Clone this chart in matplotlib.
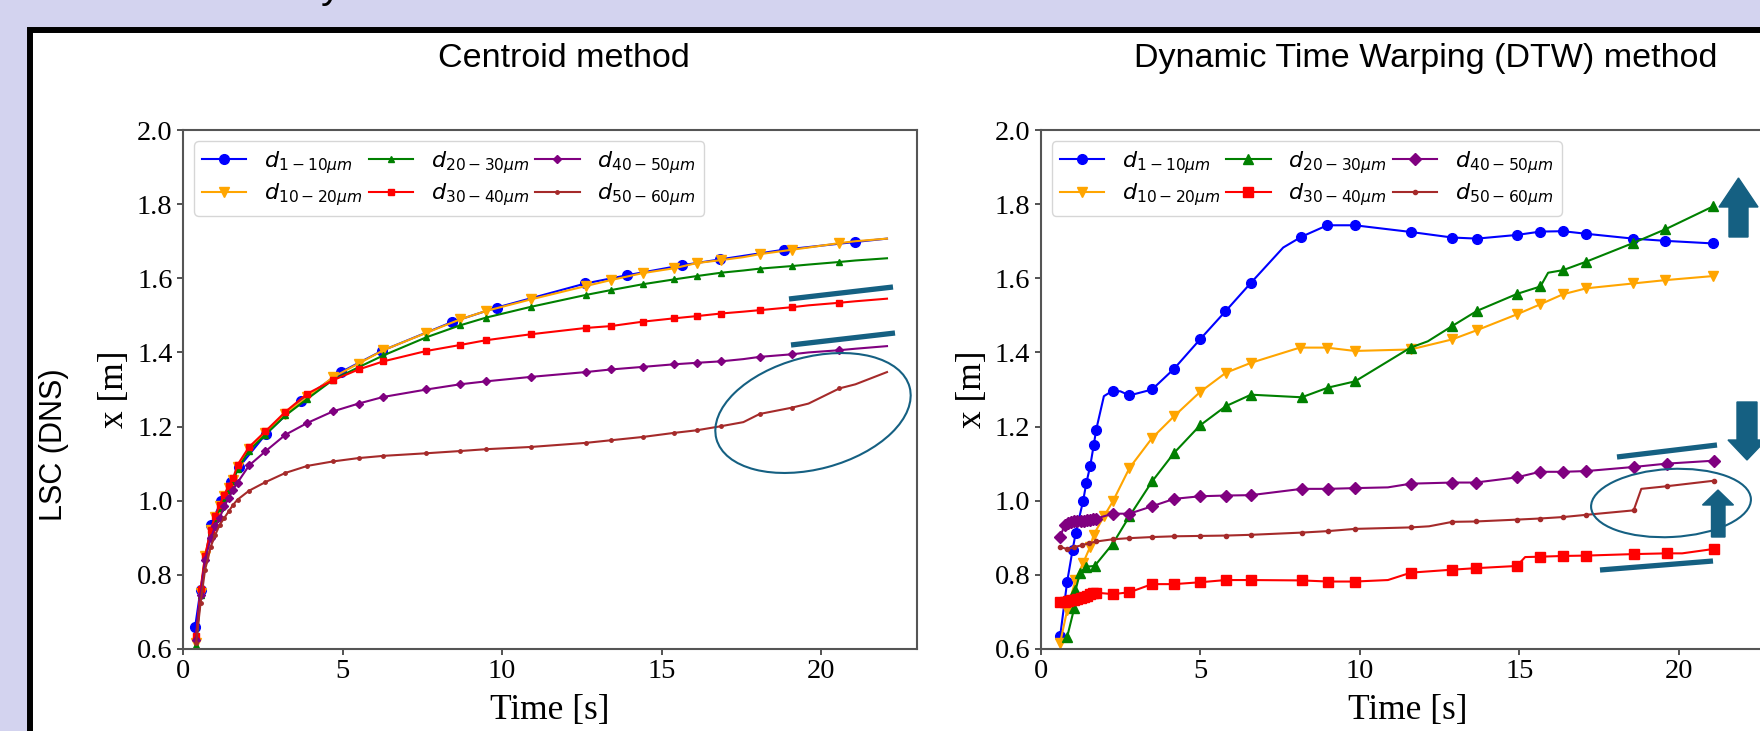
import matplotlib
matplotlib.use('Agg')
import matplotlib.pyplot as plt
from matplotlib.patches import Ellipse, Rectangle, Polygon
from matplotlib.lines import Line2D
from matplotlib.transforms import IdentityTransform

# ---- Centroid method (left panel) ----
t_c = [0.41, 0.55, 0.69, 0.87, 1.01, 1.15, 1.29, 1.43, 1.57, 1.71, 2.07, 2.58,
       3.21, 3.90, 4.70, 5.50, 6.28, 7.63, 8.68, 9.50, 10.90, 12.62, 13.40,
       14.41, 15.39, 16.10, 16.86, 17.56, 18.07, 19.08, 19.60, 20.57, 21.07, 22.06]
t_c_blue = [0.38, 0.55, 0.87, 1.20, 1.50, 1.75, 2.60, 3.70, 4.95, 6.25, 8.43,
            9.83, 12.61, 13.90, 15.63, 16.83, 18.82, 21.07, 22.06]
c_blue = [0.66, 0.76, 0.935, 1.00, 1.05, 1.09, 1.18, 1.27, 1.347, 1.405, 1.482,
          1.521, 1.586, 1.608, 1.635, 1.651, 1.677, 1.698, 1.707]
c_orange = [0.615, 0.75, 0.85, 0.92, 0.955, 0.985, 1.012, 1.035, 1.057, 1.09, 1.14,
            1.183, 1.235, 1.28, 1.333, 1.37, 1.406, 1.453, 1.489, 1.512, 1.543,
            1.579, 1.595, 1.614, 1.627, 1.641, 1.649, 1.657, 1.665, 1.677, 1.683,
            1.695, 1.70, 1.707]
c_green = [0.61, 0.745, 0.845, 0.915, 0.95, 0.98, 1.007, 1.03, 1.052, 1.085, 1.135,
           1.178, 1.23, 1.275, 1.326, 1.36, 1.392, 1.441, 1.473, 1.494, 1.523,
           1.555, 1.568, 1.584, 1.597, 1.606, 1.615, 1.621, 1.626, 1.633, 1.637,
           1.644, 1.648, 1.654]
c_red = [0.635, 0.761, 0.851, 0.922, 0.958, 0.989, 1.016, 1.039, 1.061, 1.097, 1.145,
         1.187, 1.24, 1.289, 1.325, 1.354, 1.376, 1.404, 1.42, 1.433, 1.449, 1.466,
         1.471, 1.483, 1.492, 1.498, 1.505, 1.51, 1.514, 1.522, 1.527, 1.534,
         1.538, 1.545]
c_purple = [0.624, 0.746, 0.84, 0.899, 0.931, 0.953, 0.985, 1.007, 1.03, 1.049, 1.095,
            1.133, 1.178, 1.21, 1.241, 1.262, 1.28, 1.30, 1.314, 1.322, 1.334,
            1.347, 1.354, 1.361, 1.368, 1.372, 1.376, 1.382, 1.388, 1.395, 1.40,
            1.406, 1.41, 1.417]
c_brown = [0.615, 0.724, 0.813, 0.876, 0.908, 0.935, 0.953, 0.971, 0.989, 1.003,
           1.027, 1.05, 1.075, 1.094, 1.106, 1.115, 1.121, 1.128, 1.134, 1.139,
           1.145, 1.156, 1.163, 1.172, 1.183, 1.19, 1.201, 1.212, 1.234, 1.251,
           1.262, 1.303, 1.314, 1.347]
c_plain = [17.56, 19.60, 21.07, 22.06]      # vertices drawn without marker
c_blue_plain = [22.06]

# ---- DTW method (right panel) ----
d_blue_t = [0.61, 0.83, 1.0, 1.1, 1.33, 1.43, 1.55, 1.66, 1.74, 1.98, 2.26, 2.5,
            2.78, 3.49, 4.18, 4.99, 5.79, 6.59, 7.6, 8.17, 8.98, 9.84, 11.59, 12.89,
            13.67, 14.93, 15.66, 16.37, 17.1, 18.56, 19.57, 21.07]
d_blue = [0.635, 0.782, 0.868, 0.914, 1.0, 1.048, 1.093, 1.149, 1.192, 1.282, 1.297,
          1.295, 1.284, 1.30, 1.356, 1.435, 1.511, 1.588, 1.683, 1.712, 1.743, 1.743,
          1.725, 1.71, 1.707, 1.717, 1.726, 1.727, 1.72, 1.707, 1.701, 1.694]
d_orange_t = [0.61, 0.83, 1.09, 1.33, 1.55, 1.66, 1.98, 2.26, 2.78, 3.49, 4.18, 4.99,
              5.8, 6.59, 8.12, 8.96, 9.84, 11.59, 12.89, 13.67, 14.93, 15.66, 16.37,
              17.1, 18.56, 19.57, 21.07]
d_orange = [0.617, 0.705, 0.786, 0.832, 0.876, 0.908, 0.958, 0.998, 1.088, 1.169,
            1.228, 1.293, 1.345, 1.372, 1.413, 1.413, 1.404, 1.408, 1.435, 1.46,
            1.503, 1.53, 1.557, 1.573, 1.586, 1.595, 1.606]
d_green_t = [0.83, 1.05, 1.09, 1.23, 1.43, 1.69, 2.26, 2.78, 3.49, 4.18, 4.99, 5.8,
             6.59, 8.18, 9.0, 9.85, 11.59, 12.13, 12.89, 13.67, 14.93, 15.66, 15.9,
             16.37, 17.1, 18.56, 19.57, 21.07]
d_green = [0.633, 0.71, 0.758, 0.805, 0.822, 0.824, 0.884, 0.958, 1.052, 1.129, 1.203,
           1.255, 1.286, 1.279, 1.305, 1.322, 1.413, 1.43, 1.471, 1.512, 1.558, 1.578,
           1.615, 1.622, 1.645, 1.695, 1.732, 1.794]
d_red_t = [0.61, 0.75, 0.85, 0.95, 1.05, 1.15, 1.25, 1.35, 1.45, 1.55, 1.65, 1.74,
           2.26, 2.78, 3.49, 4.18, 4.99, 5.8, 6.59, 8.18, 9.0, 9.85, 10.88, 11.6,
           12.9, 13.63, 14.92, 15.18, 15.64, 16.38, 17.1, 18.58, 19.61, 20.1, 21.1]
d_red = [0.728, 0.728, 0.729, 0.731, 0.733, 0.735, 0.737, 0.74, 0.744, 0.748, 0.75,
         0.752, 0.748, 0.753, 0.775, 0.775, 0.78, 0.786, 0.786, 0.785, 0.782, 0.782,
         0.786, 0.806, 0.814, 0.818, 0.824, 0.848, 0.849, 0.851, 0.852, 0.856,
         0.858, 0.858, 0.87]
d_purple_t = [0.61, 0.75, 0.85, 0.95, 1.05, 1.15, 1.25, 1.35, 1.45, 1.55, 1.65, 1.74,
              2.26, 2.78, 3.49, 4.18, 4.99, 5.8, 6.59, 8.18, 9.0, 9.85, 10.88, 11.6,
              12.9, 13.63, 14.92, 15.64, 16.38, 17.1, 18.58, 19.61, 21.1]
d_purple = [0.902, 0.935, 0.94, 0.942, 0.944, 0.945, 0.945, 0.946, 0.947, 0.948, 0.95,
            0.952, 0.965, 0.965, 0.985, 1.005, 1.012, 1.014, 1.015, 1.032, 1.032,
            1.034, 1.036, 1.046, 1.049, 1.049, 1.063, 1.078, 1.078, 1.08, 1.091,
            1.10, 1.108]
d_brown_t = [0.61, 0.83, 1.05, 1.3, 1.5, 1.74, 2.26, 2.78, 3.49, 4.18, 4.99, 5.8,
             6.59, 8.18, 9.0, 9.85, 11.6, 12.17, 12.9, 13.63, 14.92, 15.64, 16.38,
             17.1, 18.58, 18.82, 19.61, 21.1]
d_brown = [0.876, 0.869, 0.875, 0.88, 0.885, 0.89, 0.896, 0.899, 0.902, 0.904, 0.905,
           0.906, 0.908, 0.914, 0.918, 0.924, 0.928, 0.931, 0.943, 0.944, 0.949,
           0.952, 0.956, 0.962, 0.974, 1.032, 1.039, 1.054]
d_plain = {'blue': [1.98, 2.5, 7.6], 'orange': [], 'green': [12.13, 15.9],
           'red': [10.88, 15.18, 20.1], 'purple': [10.88], 'brown': [12.17, 18.82]}

labels = [r'$d_{1-10\mu m}$', r'$d_{10-20\mu m}$', r'$d_{20-30\mu m}$',
          r'$d_{30-40\mu m}$', r'$d_{40-50\mu m}$', r'$d_{50-60\mu m}$']
colors = ['blue', 'orange', 'green', 'red', 'purple', 'brown']
markers = ['o', 'v', '^', 's', 'D', '.']
ms_left = [7, 7, 5, 5, 4, 5]
ms_right = [7, 7, 7, 7, 6.5, 6]

plt.rcParams['font.family'] = ['Liberation Serif', 'DejaVu Serif']
plt.rcParams['mathtext.fontset'] = 'dejavusans'

W, H = 1760, 731
fig = plt.figure(figsize=(W / 100, H / 100), dpi=100, facecolor='#d3d3ef')
px = IdentityTransform()
fig.add_artist(Rectangle((30, -20), 1800, H - 30 + 20, transform=px,
                         facecolor='white', edgecolor='black', lw=4.3, zorder=-1))

ax1 = fig.add_axes([183 / W, 82 / H, 734 / W, 519 / H])
ax2 = fig.add_axes([1040.7 / W, 82 / H, 734 / W, 519 / H])


def marks(t, plain):
    return [i for i, x in enumerate(t) if x not in plain]


left = [(t_c_blue, c_blue, c_blue_plain), (t_c, c_orange, c_plain),
        (t_c, c_green, c_plain), (t_c, c_red, c_plain),
        (t_c, c_purple, c_plain), (t_c, c_brown, c_plain)]
for (t, v, pl), c, m, ms, lab in zip(left, colors, markers, ms_left, labels):
    ax1.plot(t, v, color=c, marker=m, ms=ms, lw=1.5, label=lab,
             markevery=marks(t, pl))

right = [(d_blue_t, d_blue), (d_orange_t, d_orange), (d_green_t, d_green),
         (d_red_t, d_red), (d_purple_t, d_purple), (d_brown_t, d_brown)]
for (t, v), c, m, ms, lab in zip(right, colors, markers, ms_right, labels):
    ax2.plot(t, v, color=c, marker=m, ms=ms, lw=1.5, label=lab,
             markevery=marks(t, d_plain[c]))

for ax in (ax1, ax2):
    ax.set_xlim(0, 23.0)
    ax.set_ylim(0.6, 2.0)
    ax.set_xticks([0, 5, 10, 15, 20])
    ax.set_yticks([0.6, 0.8, 1.0, 1.2, 1.4, 1.6, 1.8, 2.0])
    ax.set_yticklabels(['0.6', '0.8', '1.0', '1.2', '1.4', '1.6', '1.8', '2.0'])
    ax.tick_params(labelsize=20.5, length=4, width=1.3, color='#444444')
    for s in ax.spines.values():
        s.set_color('#555555')
        s.set_linewidth(1.5)
    ax.set_xlabel('Time [s]', fontsize=25.5, labelpad=7)
    ax.set_ylabel('x [m]', fontsize=25.5)
    ax.legend(loc='upper left', ncol=3, fontsize=16, columnspacing=0.25,
              labelspacing=0.25, borderpad=0.35)

# panel titles and row label
fig.text(564 / W, (H - 67) / H, 'Centroid method', family='Liberation Sans',
         fontsize=24.5, ha='center', va='baseline')
fig.text(1426 / W, (H - 67) / H, 'Dynamic Time Warping (DTW) method',
         family='Liberation Sans', fontsize=24.5, ha='center', va='baseline')
fig.text(54 / W, (H - 445) / H, 'LSC (DNS)', family='Liberation Sans',
         fontsize=22, rotation=90, ha='center', va='center')
fig.text(331 / W, (H + 2) / H, 'y', family='Liberation Sans', fontsize=29,
         ha='center', va='baseline')

# slide annotations (pixel coordinates)
teal = '#156082'
fig.add_artist(Ellipse((813, 318), 200, 112, angle=15, transform=px, fill=False,
                       edgecolor=teal, lw=1.5, zorder=5))
fig.add_artist(Ellipse((1671, 228), 160, 68, angle=3, transform=px, fill=False,
                       edgecolor=teal, lw=1.5, zorder=5))
for (x0, y0, x1, y1) in [(789, 432, 893, 444), (791, 386, 895, 398),
                         (1617, 274, 1717, 286), (1600, 161, 1713, 170)]:
    fig.add_artist(Line2D([x0, x1], [y0, y1], transform=px, color=teal, lw=3.8,
                          solid_capstyle='butt', zorder=5))
arrows = [
    [(1729, 494), (1748, 494), (1748, 524), (1758, 524), (1738.5, 553), (1719, 524), (1729, 524)],
    [(1737, 329), (1757, 329), (1757, 291), (1766, 291), (1747, 271), (1728, 291), (1737, 291)],
    [(1711.5, 194), (1725, 194), (1725, 226), (1733.5, 226), (1718, 241), (1702.5, 226), (1711.5, 226)],
]
for pts in arrows:
    fig.add_artist(Polygon(pts, closed=True, transform=px, facecolor=teal,
                           edgecolor=teal, lw=1, zorder=5))

fig.savefig('out.png', dpi=100, facecolor=fig.get_facecolor())
